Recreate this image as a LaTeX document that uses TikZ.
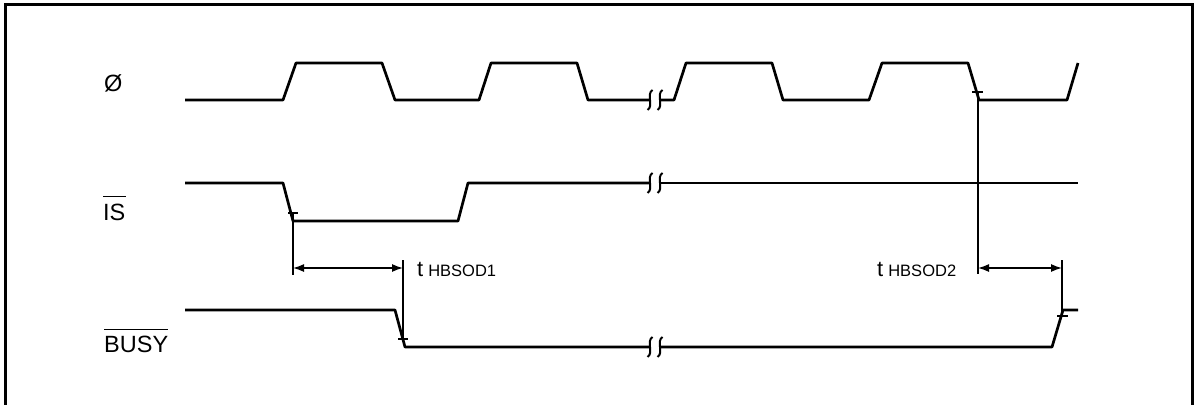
\documentclass[tikz,border=0pt]{standalone}
\usepackage{fontspec}
\setmainfont{Liberation Sans}
\usetikzlibrary{arrows.meta}
\newcommand\brkmark[2]{\draw[brk] (#1+2.5,#2-10) .. controls (#1-4,#2-6) and (#1+4,#2+6) .. (#1-2.5,#2+10);}
\begin{document}
\begin{tikzpicture}[x=1pt,y=-1pt,
  sig/.style={line width=2.7pt,line join=round},
  thinln/.style={line width=1.4pt},
  dim/.style={line width=1.4pt,{Latex[length=11pt,width=8pt]}-{Latex[length=11pt,width=8pt]}},
  lbl/.style={font=\fontsize{23.5}{26}\selectfont,inner sep=0pt,anchor=base west},
  tlbl/.style={inner sep=0pt,anchor=base west},
  brk/.style={line width=2pt}]
\useasboundingbox (0,0) rectangle (1198,404);
% frame
\draw[line width=3pt] (5,430) -- (5,5) -- (1192,5) -- (1192,430);

% labels
\node[lbl] (phi) at (104,91) {Ø};
\node[lbl] (is) at (103,220) {IS};
\draw[thinln] ([yshift=7pt]is.north west) -- ([yshift=7pt]is.north east);
\node[lbl] (busy) at (104,352) {BUSY};
\draw[thinln] ([yshift=6pt]busy.north west) -- ([yshift=6pt]busy.north east);

% clock
\draw[sig] (185,100) -- (283,100) -- (296,63) -- (382,63) -- (395,100) -- (479,100)
  -- (491,63) -- (577,63) -- (588,100) -- (650,100);
\brkmark{650}{100}
\brkmark{660}{100}
\draw[sig] (660,100) -- (674,100) -- (686,63) -- (772,63) -- (783,100) -- (869,100)
  -- (882,63) -- (968,63) -- (979,100) -- (1067,100) -- (1078,63);

% IS
\draw[sig] (185,183) -- (283,183) -- (293,221) -- (458,221) -- (468,183) -- (650,183);
\brkmark{650}{183}
\brkmark{660}{183}
\draw[sig] (660,183) -- (1078,183);

% BUSY
\draw[sig] (185,310) -- (395,310) -- (405,347) -- (650,347);
\brkmark{650}{347}
\brkmark{660}{347}
\draw[sig] (660,347) -- (1052,347) -- (1063,310) -- (1078,310);

% timing marks
\coordinate (a1) at (293,213);
\coordinate (a1b) at (293,275);
\coordinate (b1t) at (403,260);
\coordinate (b1) at (403,339);
\coordinate (a2) at (978,92);
\coordinate (a2b) at (978,274);
\coordinate (b2t) at (1062,260);
\coordinate (b2) at (1062,316);

\draw[thinln] (a1) -- (a1b);
\draw[thinln] ([xshift=-5pt]a1) -- ([xshift=5pt]a1);
\draw[thinln] (b1t) -- (b1);
\draw[thinln] ([xshift=-5pt]b1) -- ([xshift=5pt]b1);
\draw[thinln] (a2) -- (a2b);
\draw[thinln] ([xshift=-6pt]a2) -- ([xshift=5pt]a2);
\draw[thinln] (b2t) -- (b2);
\draw[thinln] ([xshift=-5pt]b2) -- ([xshift=6pt]b2);

\coordinate (d1a) at (293,268);
\coordinate (d1b) at (403,268);
\coordinate (d2a) at (978,268);
\coordinate (d2b) at (1062,268);
\draw[dim] (d1a) -- (d1b);
\draw[dim] (d2a) -- (d2b);

\node[tlbl] (t1) at (417,276) {\fontsize{22}{24}\selectfont t\hspace{5pt}\fontsize{16.5}{18}\selectfont HBSOD1};
\node[tlbl] (t2) at (877,276) {\fontsize{22}{24}\selectfont t\hspace{5pt}\fontsize{16.5}{18}\selectfont HBSOD2};
\end{tikzpicture}
\end{document}
